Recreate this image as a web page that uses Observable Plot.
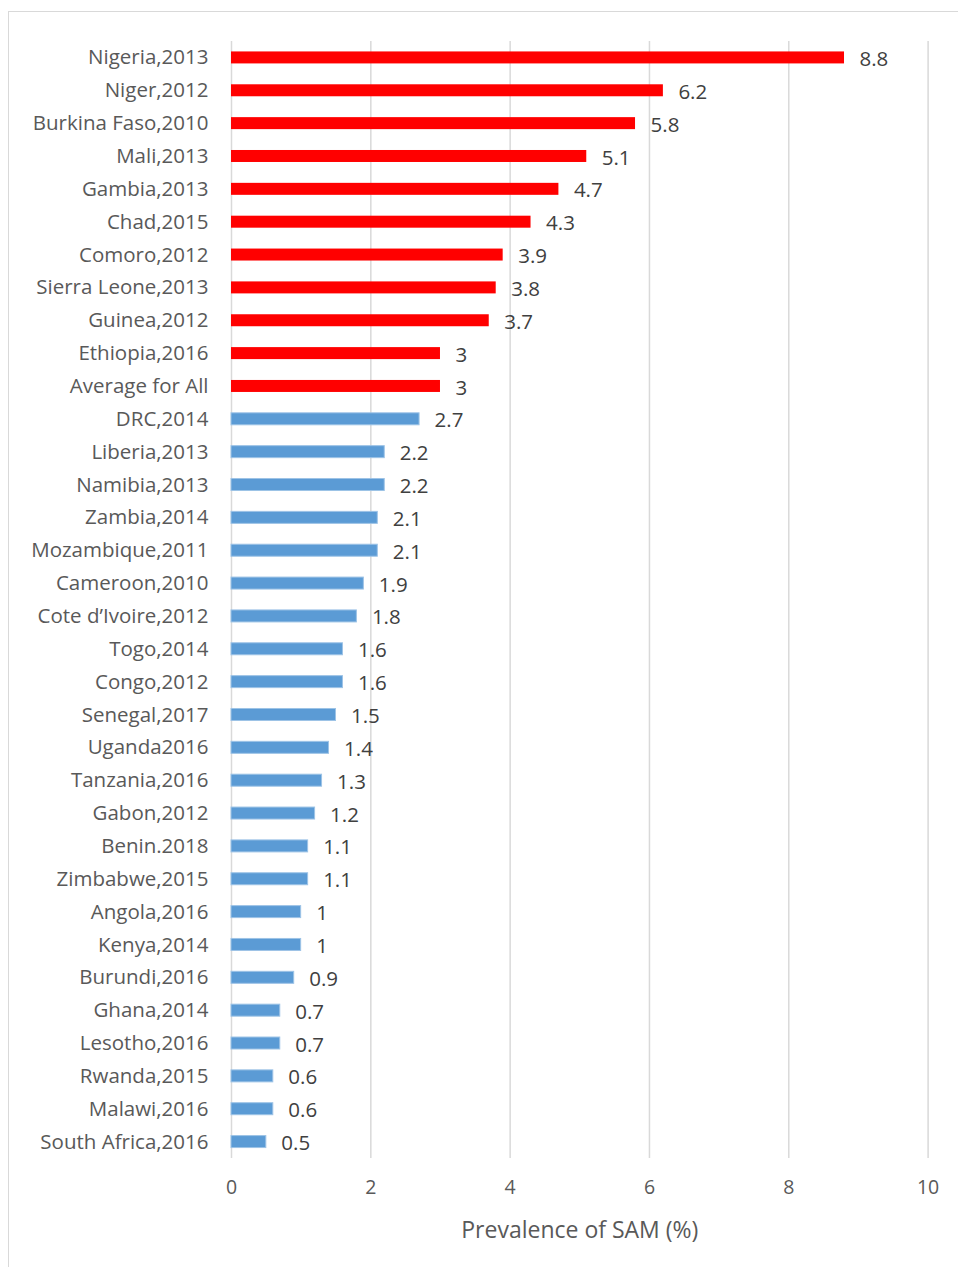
<!DOCTYPE html>
<html>
<head>
<meta charset="utf-8">
<script src="https://cdn.jsdelivr.net/npm/d3@7"></script>
<script src="https://cdn.jsdelivr.net/npm/@observablehq/plot@0.6"></script>
<style>
  html, body { margin: 0; padding: 0; background: #fff; }
  #wrap { position: relative; width: 958px; height: 1267px; overflow: hidden; }
  #frame { position: absolute; left: 8px; top: 11px; width: 980px; height: 1300px; border: 1.5px solid #d9d9d9; box-sizing: border-box; }
  #chart { position: absolute; left: 0; top: 0; }
</style>
</head>
<body>
<div id="wrap"><div id="frame"></div><div id="chart"></div></div>
<script>
const countries = [
  "Nigeria,2013", "Niger,2012", "Burkina Faso,2010", "Mali,2013", "Gambia,2013",
  "Chad,2015", "Comoro,2012", "Sierra Leone,2013", "Guinea,2012", "Ethiopia,2016",
  "Average for All", "DRC,2014", "Liberia,2013", "Namibia,2013", "Zambia,2014",
  "Mozambique,2011", "Cameroon,2010", "Cote d’Ivoire,2012", "Togo,2014", "Congo,2012",
  "Senegal,2017", "Uganda2016", "Tanzania,2016", "Gabon,2012", "Benin.2018",
  "Zimbabwe,2015", "Angola,2016", "Kenya,2014", "Burundi,2016", "Ghana,2014",
  "Lesotho,2016", "Rwanda,2015", "Malawi,2016", "South Africa,2016"
];
const prevalence = [
  8.8, 6.2, 5.8, 5.1, 4.7,
  4.3, 3.9, 3.8, 3.7, 3,
  3, 2.7, 2.2, 2.2, 2.1,
  2.1, 1.9, 1.8, 1.6, 1.6,
  1.5, 1.4, 1.3, 1.2, 1.1,
  1.1, 1, 1, 0.9, 0.7,
  0.7, 0.6, 0.6, 0.5
];
const group = countries.map((c, i) => i < 11 ? "high" : "low");
const xTicks = [0, 2, 4, 6, 8, 10];

const data = countries.map((c, i) => ({country: c, value: prevalence[i], group: group[i]}));

const font = "'Open Sans', sans-serif";

const chart = Plot.plot({
  width: 958,
  height: 1267,
  marginLeft: 231,
  marginRight: 30.4,
  marginTop: 41,
  marginBottom: 109,
  style: {fontFamily: font, fontSize: "18px", color: "#595959", background: "transparent"},
  x: {domain: [0, 10], ticks: xTicks, label: null},
  y: {domain: countries, paddingInner: 0.635, paddingOuter: 0.3175, round: false, label: null},
  color: {domain: ["high", "low"], range: ["#ff0000", "#5b9bd5"]},
  marks: [
    Plot.gridX(xTicks, {stroke: "#d9d9d9", strokeOpacity: 1, strokeWidth: 1.5}),
    Plot.barX(data, {
      x: "value", y: "country", fill: "group",
      stroke: d => d.group === "low" ? "#9dc3e6" : "none", strokeWidth: 1
    }),
    Plot.text(data, {
      x: "value", y: "country", text: d => String(d.value),
      dx: 15, dy: 1.5, textAnchor: "start", fill: "#404040", fontSize: 20.5
    }),
    Plot.axisY({tickSize: 0, tickPadding: 23, fontSize: 20.5, fill: "#595959", label: null}),
    Plot.axisX(xTicks, {tickSize: 0, tickPadding: 22, fontSize: 19.5, fill: "#595959", label: null}),
    Plot.text(["Prevalence of SAM (%)"], {
      frameAnchor: "bottom", x: 5, dy: 79, fontSize: 23, fill: "#595959"
    })
  ]
});
document.getElementById("chart").appendChild(chart);
</script>
</body>
</html>
